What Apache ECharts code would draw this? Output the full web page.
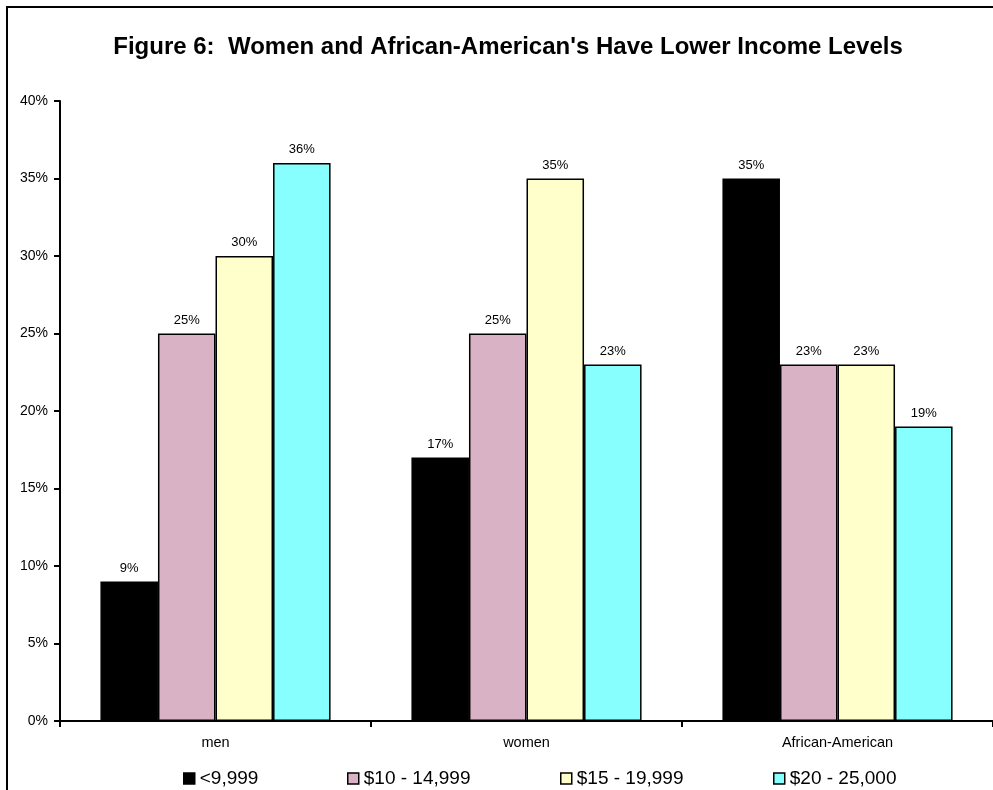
<!DOCTYPE html>
<html>
<head>
<meta charset="utf-8">
<script src="https://cdn.jsdelivr.net/npm/echarts@6/dist/echarts.min.js"></script>
<style>
  html, body { margin: 0; padding: 0; background: #fff; }
  #chart { width: 993px; height: 790px; }
</style>
</head>
<body>
<div id="chart"></div>
<script>
// Income share by group, in percent
const categories = ['men', 'women', 'African-American'];
const seriesNames = ['<9,999', '$10 - 14,999', '$15 - 19,999', '$20 - 25,000'];
const under10k = [9, 17, 35];
const from10to15k = [25, 25, 23];
const from15to20k = [30, 35, 23];
const from20to25k = [36, 23, 19];
const yTicks = [0, 5, 10, 15, 20, 25, 30, 35, 40];

const colors = ['#000000', '#d9b2c5', '#ffffcc', '#88ffff'];
const values = [under10k, from10to15k, from15to20k, from20to25k];
const FONT = 'Liberation Sans, Arial, sans-serif';

const chart = echarts.init(document.getElementById('chart'), null, { renderer: 'canvas' });

const series = seriesNames.map((name, i) => ({
  name,
  type: 'bar',
  data: values[i],
  barGap: '0%',
  barCategoryGap: '26%',
  itemStyle: { color: colors[i], borderColor: '#000', borderWidth: 1.5 },
  label: {
    show: true,
    position: 'top',
    distance: 7,
    formatter: '{c}%',
    color: '#000',
    fontFamily: FONT,
    fontSize: 13
  }
}));

// One legend per entry so each sits in its own slot
const legendLefts = [183, 347, 560, 773];
const legends = seriesNames.map((name, i) => ({
  data: [{ name, icon: 'rect' }],
  left: legendLefts[i],
  top: 769,
  padding: 0,
  itemWidth: 11,
  itemHeight: 11,
  itemGap: 5,
  selectedMode: false,
  textStyle: { color: '#000', fontFamily: FONT, fontSize: 19, padding: [3, 0, 0, 0] },
  itemStyle: { borderColor: '#000', borderWidth: 1.5 }
}));

chart.setOption({
  animation: false,
  backgroundColor: '#fff',
  title: {
    text: "Figure 6:  Women and African-American's Have Lower Income Levels",
    left: 503,
    textAlign: 'center',
    top: 30,
    textStyle: { fontFamily: FONT, fontSize: 24, fontWeight: 'bold', color: '#000' }
  },
  legend: legends,
  grid: { left: 60, right: 0, top: 101, bottom: 69, containLabel: false },
  xAxis: {
    type: 'category',
    data: categories,
    axisLine: { lineStyle: { color: '#000', width: 2 } },
    axisTick: { show: true, length: 6, lineStyle: { color: '#000', width: 2 } },
    axisLabel: { color: '#000', fontFamily: FONT, fontSize: 14.5, margin: 14 }
  },
  yAxis: {
    type: 'value',
    min: yTicks[0],
    max: yTicks[yTicks.length - 1],
    interval: 5,
    axisLine: { show: true, lineStyle: { color: '#000', width: 2 } },
    axisTick: { show: true, length: 6, lineStyle: { color: '#000', width: 2 } },
    axisLabel: { color: '#000', fontFamily: FONT, fontSize: 14, margin: 12, formatter: '{value}%' },
    splitLine: { show: false }
  },
  graphic: [{
    type: 'rect',
    shape: { x: 7, y: 7, width: 1010, height: 820 },
    style: { fill: 'none', stroke: '#000', lineWidth: 2 },
    silent: true,
    z: 100
  }],
  series
});
</script>
</body>
</html>
